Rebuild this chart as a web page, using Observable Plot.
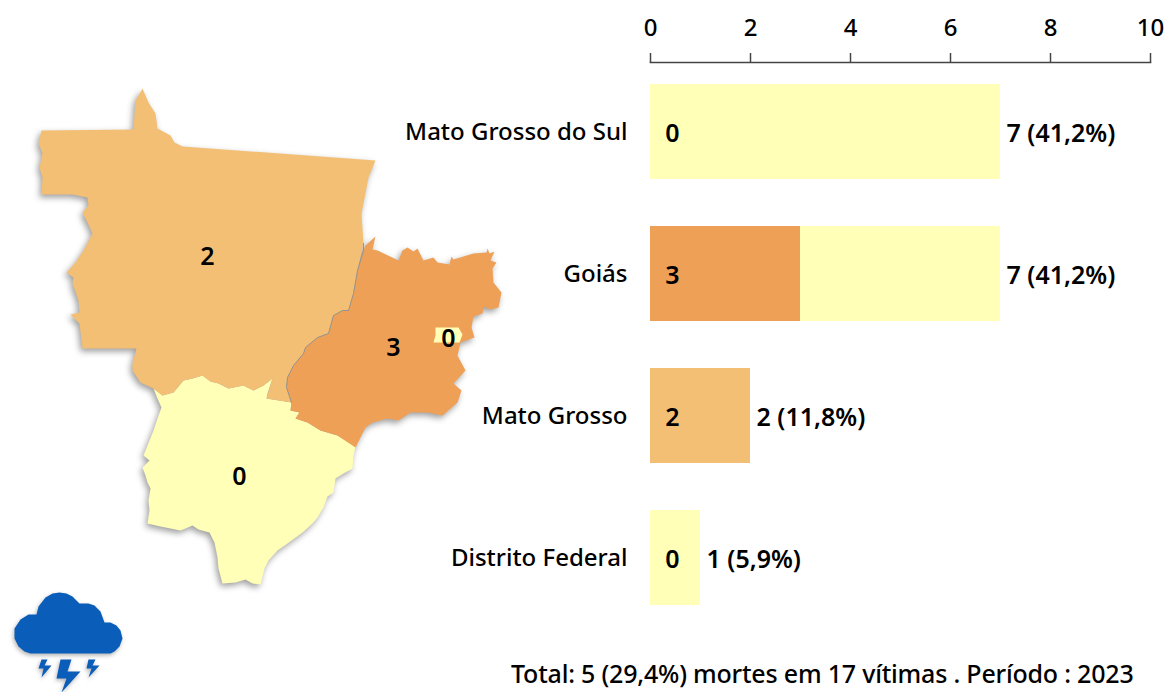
<!DOCTYPE html>
<html lang="pt">
<head>
<meta charset="utf-8">
<script src="https://cdn.jsdelivr.net/npm/d3@7"></script>
<script src="https://cdn.jsdelivr.net/npm/@observablehq/plot@0.6"></script>
<style>
html,body{margin:0;padding:0;background:#fff}
#wrap{position:relative;width:1166px;height:692px;overflow:hidden}
#wrap svg{position:absolute;left:0;top:0;background:transparent}
#caption{position:absolute;left:511px;top:656px;font:500 25px "Noto Sans",sans-serif;color:#000;white-space:nowrap;letter-spacing:-.2px}
</style>
</head>
<body>
<div id="wrap"></div>
<script>
const states = ["Mato Grosso do Sul", "Goiás", "Mato Grosso", "Distrito Federal"];
const victims = [7, 7, 2, 1];
const deaths = [0, 3, 2, 0];
const shares = ["41,2%", "41,2%", "11,8%", "5,9%"];
const xTicks = [0, 2, 4, 6, 8, 10];
const captionText = "Total: 5 (29,4%) mortes em 17 vítimas . Período : 2023";

const deathColors = {domain: [0, 2, 3], range: ["#FFFFB7", "#F3BF75", "#EEA057"]};

// Outlines, in map-grid units
const outlineMT = [[41,130],[133,129],[135,100],[142,88],[148,102],[155,113],[157,128],[170,135],[174,142],[182,146],[375,160],[368,177],[363,203],[361,213],[363,243],[357,270],[353,293],[348,310],[342,310],[333,315],[328,333],[317,337],[305,347],[303,353],[293,365],[287,377],[286,387],[291,402],[266,398],[272,378],[263,385],[253,390],[243,385],[228,388],[218,383],[210,381],[202,375],[192,378],[183,380],[173,392],[162,395],[153,388],[140,382],[132,370],[132,363],[136,348],[82,348],[79,323],[70,314],[79,312],[78,300],[72,283],[73,277],[66,272],[75,262],[83,250],[92,233],[87,222],[82,212],[88,205],[87,197],[72,194],[41,194],[42,177],[39,167],[42,153],[38,143]];
const outlineMS = [[272,378],[267,393],[266,398],[291,402],[290,410],[299,412],[295,418],[307,422],[320,430],[337,435],[355,446],[353,455],[352,468],[343,473],[335,478],[333,492],[327,496],[323,507],[317,517],[312,523],[302,532],[287,543],[277,550],[268,560],[264,568],[260,584],[252,583],[245,579],[235,582],[222,583],[218,568],[217,557],[214,542],[209,532],[198,529],[192,525],[185,528],[180,530],[170,528],[160,526],[147,523],[149,510],[148,500],[150,488],[147,482],[145,475],[142,467],[149,460],[143,455],[147,445],[153,430],[157,418],[161,407],[157,398],[153,388],[162,395],[173,392],[183,380],[192,378],[202,375],[210,381],[218,383],[228,388],[243,385],[253,390],[263,385]];
const outlineGO = [[365,245],[375,236],[372,249],[377,250],[398,260],[402,250],[407,247],[413,251],[417,248],[423,260],[433,257],[437,262],[449,264],[451,256],[453,259],[473,253],[486,252],[487,248],[489,253],[494,251],[490,260],[496,262],[492,268],[493,282],[501,292],[498,307],[490,309],[483,306],[482,313],[473,316],[471,327],[474,337],[460,342],[457,355],[465,370],[453,383],[461,390],[457,402],[442,415],[427,412],[410,412],[398,420],[387,418],[372,422],[365,427],[355,447],[337,435],[320,430],[307,422],[295,418],[299,412],[290,410],[291,402],[286,387],[287,377],[293,365],[303,353],[305,347],[317,337],[328,333],[333,315],[342,310],[348,310],[353,293],[357,270],[363,250]];
const outlineDF = [[435,327],[458,327],[462,334],[459,342],[433,342],[435,335]];
const borderMTGO = [[291,402],[286,387],[287,377],[293,365],[303,353],[305,347],[317,337],[328,333],[333,315],[342,310],[348,310],[353,293],[357,270],[363,250],[363,243]];
const outlines = [outlineMS, outlineGO, outlineMT, outlineDF];
const labelLon = [239, 393, 207, 448];
const labelLat = [476, 347, 256, 338];

const cloudOutline = [[30,653],[24,651],[18,646],[14,638],[14,628],[20,619],[28,614],[36,614],[38,606],[45,597],[52,593],[59,592],[66,593],[72,596],[79,603],[88,603],[94,605],[100,611],[104,622],[110,622],[116,625],[120,630],[122,638],[119,646],[114,651],[110,653]];
const boltLeft = [[41,659],[47,659],[44,665],[51,665],[41,677],[43,668],[38,668]];
const boltMid = [[60,659],[71,659],[67,671],[80,671],[61,692],[66,678],[56,678]];
const boltRight = [[88,659],[95,659],[92,665],[99,665],[88,677],[91,668],[86,668]];

const close = (r) => [...r, r[0]];
const poly = (r) => ({type: "Polygon", coordinates: [close(r)]});
const regions = states.map((s, i) => ({state: s, deaths: deaths[i], geometry: poly(outlines[i]), lon: labelLon[i], lat: labelLat[i]}));
const table = states.map((s, i) => ({state: s, victims: victims[i], deaths: deaths[i], share: shares[i]}));
const font = '"Noto Sans",sans-serif';

const mapPlot = Plot.plot({
  width: 560, height: 692, margin: 0,
  projection: () => d3.geoIdentity(),
  color: deathColors,
  marks: [
    Plot.geo(regions, {geometry: d => d.geometry, fill: d => d.deaths, imageFilter: "drop-shadow(-2px 3px 3px rgba(0,0,0,.38))"}),
    Plot.geo([{type: "LineString", coordinates: borderMTGO}], {fill: "none", stroke: "#8f8f8f", strokeWidth: 0.9}),
    Plot.geo([boltLeft, boltMid, boltRight, cloudOutline].map(poly), {fill: "#0A5DB9", imageFilter: "drop-shadow(-1px 2px 2px rgba(0,0,0,.3))"}),
    Plot.text(regions, {x: "lon", y: "lat", text: d => String(d.deaths), fontSize: 25, fontWeight: 600, fontFamily: font, fill: "#000"})
  ]
});

const barPlot = Plot.plot({
  width: 1166, height: 692,
  marginTop: 62, marginLeft: 650, marginRight: 16, marginBottom: 60,
  style: {fontFamily: font, color: "#000"},
  x: {domain: [0, 10], range: [650, 1150]},
  y: {domain: states, range: [60.5, 628.5], paddingInner: 0.33, paddingOuter: 0.165},
  color: deathColors,
  marks: [
    Plot.barX(table, {y: "state", x: "victims", fill: deathColors.range[0]}),
    Plot.barX(table, {y: "state", x: "deaths", fill: "deaths"}),
    Plot.frame({anchor: "top", stroke: "#444", strokeWidth: 1.5}),
    Plot.axisX({anchor: "top", ticks: xTicks, tickSize: 10, tickPadding: 17, label: null, fontSize: 24, fontWeight: 500, stroke: "#444", strokeWidth: 1.5, tickFormat: d => String(d)}),
    Plot.axisY({anchor: "left", tickSize: 0, tickPadding: 23, label: null, fontSize: 24, fontWeight: 500}),
    Plot.text(table, {y: "state", x: () => 0, dx: 22, dy: 1.5, text: d => String(d.deaths), fontSize: 25, fontWeight: 600, fill: "#000"}),
    Plot.text(table, {y: "state", x: "victims", dx: 6, dy: 1.5, textAnchor: "start", text: d => `${d.victims} (${d.share})`, fontSize: 25, fontWeight: 600, fill: "#000"})
  ]
});

const wrap = document.getElementById("wrap");
wrap.append(mapPlot, barPlot);
const caption = document.createElement("div");
caption.id = "caption";
caption.textContent = captionText;
wrap.append(caption);
</script>
</body>
</html>
